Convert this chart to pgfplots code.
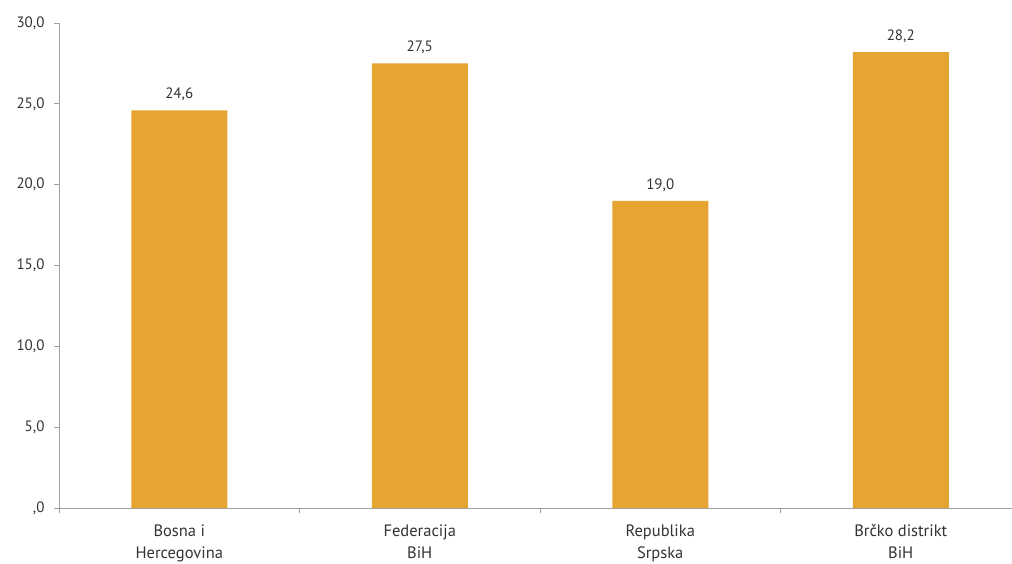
\documentclass[border=0pt]{standalone}
\usepackage{fontspec}
\setmainfont{PT Sans}
\usepackage{pgfplots}
\pgfplotsset{compat=1.18}
\definecolor{barc}{HTML}{E6A532}
\definecolor{axc}{HTML}{A0A0A0}
\definecolor{txt}{HTML}{333333}
\begin{document}
\begin{tikzpicture}[x=1pt,y=1pt]
\useasboundingbox (0,0) rectangle (1012,563);
\clip (0,0) rectangle (1012,563);
\begin{axis}[
  at={(59pt,55pt)}, anchor=south west,
  scale only axis, width=962pt, height=485pt,
  xmin=-0.5, xmax=3.5, ymin=0, ymax=30,
  axis x line=bottom, axis y line=left,
  axis line style={-, draw=axc, line width=0.8pt},
  tick style={draw=axc, line width=0.8pt},
  tick align=outside, major tick length=5pt,
  /pgf/number format/assume math mode=true,
  ytick={0,5,10,15,20,25,30},
  yticklabels={{,0},{5,0},{10,0},{15,0},{20,0},{25,0},{30,0}},
  yticklabel style={font=\fontsize{15}{18}\selectfont, text=txt, xshift=-6pt},
  xtick={-0.5,0.5,1.5,2.5,3.5}, xticklabels={},
  extra x ticks={0,1,2,3},
  extra x tick labels={{Bosna i\\Hercegovina},{Federacija\\BiH},{Republika\\Srpska},{Brčko distrikt\\BiH}},
  extra x tick style={major tick length=0pt, tick label style={font=\fontsize{16.5}{22}\selectfont, text=txt, align=center, anchor=north, yshift=-13pt}},
  ybar, bar width=96pt, bar shift=0pt,
  nodes near coords={\pgfmathprintnumber[fixed,fixed zerofill,precision=1,use comma,assume math mode=true]{\pgfplotspointmeta}},
  nodes near coords style={font=\fontsize{15}{18}\selectfont, text=txt, anchor=south, inner sep=0pt, yshift=9pt},
]
\addplot[fill=barc, draw=none] coordinates {(0,24.6) (1,27.5) (2,19.0) (3,28.2)};
\end{axis}
\end{tikzpicture}
\end{document}
